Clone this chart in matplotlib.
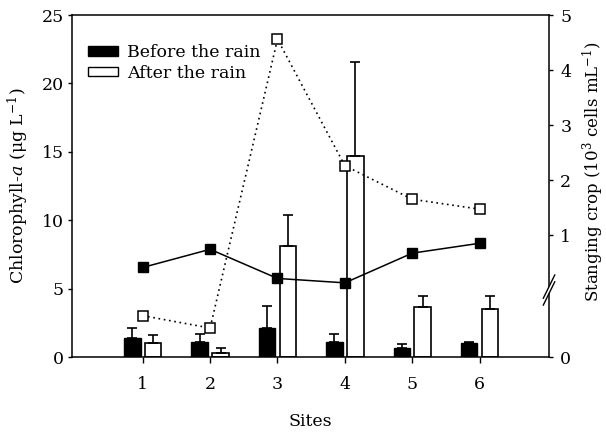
import numpy as np
import matplotlib
matplotlib.use('Agg')
import matplotlib.pyplot as plt
from matplotlib.patches import Patch

# ---- data ----
sites = [1, 2, 3, 4, 5, 6]
site_labels = ['1', '2', '3', '4', '5', '6']
chl_before = [1.41, 1.10, 2.10, 1.07, 0.63, 1.00]
chl_before_err = [0.69, 0.58, 1.65, 0.61, 0.30, 0.08]
chl_after = [1.05, 0.27, 8.10, 14.71, 3.68, 3.51]
chl_after_err = [0.54, 0.37, 2.28, 6.85, 0.76, 0.93]
crop_before = [0.41, 0.74, 0.21, 0.13, 0.67, 0.85]
crop_after = [0.057, 0.040, 4.56, 2.26, 1.65, 1.47]
chl_ticks = [0, 5, 10, 15, 20, 25]
crop_ticks = [0, 1, 2, 3, 4, 5]
legend_labels = ['Before the rain', 'After the rain']

plt.rcParams['font.family'] = ['DejaVu Serif']
plt.rcParams['mathtext.fontset'] = 'dejavuserif'
FS = 12.5

# broken right-axis scale (piecewise linear)
BRK, K, VB = 4.9, 4.02, 0.1
TOP_LOW = BRK + K * VB


def fwd(v):
    v = np.asarray(v, dtype=float)
    return np.where(v < VB, v * TOP_LOW / VB, BRK + K * v)


def inv(u):
    u = np.asarray(u, dtype=float)
    return np.where(u < TOP_LOW, u * VB / TOP_LOW, (u - BRK) / K)


fig = plt.figure(figsize=(6.06, 4.37), dpi=100)
ax = fig.add_axes([0.1188, 0.183, 0.7872, 0.7826])

x = np.array(sites, dtype=float)
off, w = 0.155, 0.245
zeros = np.zeros(len(sites))
ekw = dict(ecolor='black', elinewidth=1.2, capsize=3.6, capthick=1.2)
ax.bar(x - off, chl_before, w, color='black', edgecolor='black', linewidth=1.0,
       yerr=[zeros, chl_before_err], error_kw=ekw)
ax.bar(x + off, chl_after, w, color='white', edgecolor='black', linewidth=1.2,
       yerr=[zeros, chl_after_err], error_kw=ekw)

ax.set_xlim(-0.05, 7.03)
ax.set_ylim(0, 25)
ax.set_xticks(sites, site_labels)
ax.set_yticks(chl_ticks)
ax.tick_params(axis='x', direction='out', length=4, width=1, pad=10, labelsize=FS)
ax.tick_params(axis='y', direction='out', length=3, width=1, pad=3, labelsize=FS)
ax.spines['right'].set_visible(False)
for s in ['top', 'left', 'bottom']:
    ax.spines[s].set_linewidth(1.1)

ax.set_xlabel('Sites', fontsize=FS)
ax.xaxis.set_label_coords(0.5, -0.165)
ax.xaxis.label.set_va('top')
ax.set_ylabel('Chlorophyll-$a$ (μg L$^{-1}$)', fontsize=FS)
ax.yaxis.set_label_coords(-0.085, 0.5)

ax.legend(handles=[Patch(facecolor='black', edgecolor='black'),
                   Patch(facecolor='white', edgecolor='black', linewidth=1.0)],
          labels=legend_labels, loc='upper left', frameon=False, fontsize=FS,
          handlelength=1.7, handleheight=0.45, handletextpad=0.5,
          labelspacing=0.2, borderaxespad=0.0, bbox_to_anchor=(0.02, 0.935))

ax2 = ax.twinx()
ax2.set_yscale('function', functions=(fwd, inv))
ax2.set_ylim(0, 5)
ax2.set_yticks(crop_ticks)
ax2.set_yticklabels([str(t) for t in crop_ticks])
ax2.tick_params(axis='y', direction='out', length=3, width=1, pad=5, labelsize=FS)
for s in ['right', 'left', 'top', 'bottom']:
    ax2.spines[s].set_visible(False)

ax2.plot(sites, crop_before, '-', color='black', lw=1.1, marker='s', ms=7,
         mfc='black', mec='black', zorder=3)
ax2.plot(sites, crop_after, linestyle=(0, (1, 2.2)), color='black', lw=1.2,
         marker='s', ms=7, mfc='white', mec='black', mew=1.1, zorder=3)

ax2.set_ylabel('Stanging crop (10$^{3}$ cells mL$^{-1}$)', fontsize=12)
ax2.yaxis.set_label_coords(1.066, 0.542)

# right spine with break marks
yb = (357 - 290) / 342.0
tr = ax.transAxes
ax.plot([1, 1], [0, yb - 0.012], color='black', lw=1.1, transform=tr, clip_on=False)
ax.plot([1, 1], [yb + 0.012, 1], color='black', lw=1.1, transform=tr, clip_on=False)
for d in (-0.01, 0.01):
    ax.plot([1 - 0.012, 1 + 0.012], [yb + d - 0.034, yb + d + 0.034], color='black',
            lw=1.0, transform=tr, clip_on=False)

fig.savefig('out.png', dpi=100)
